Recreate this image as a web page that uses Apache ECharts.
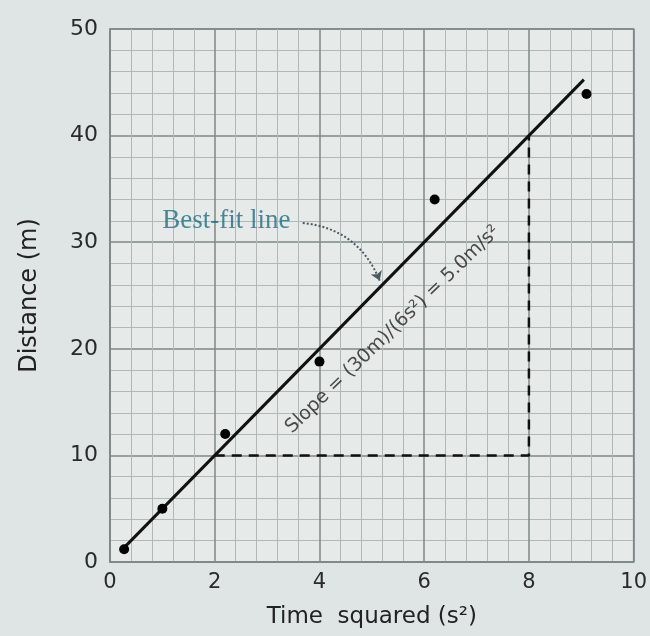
<!DOCTYPE html>
<html>
<head>
<meta charset="utf-8">
<script src="https://cdn.jsdelivr.net/npm/echarts@6/dist/echarts.min.js"></script>
<style>html,body{margin:0;padding:0;background:#dfe5e4;}#c{width:650px;height:636px;}</style>
</head>
<body>
<div id="c"></div>
<script>
// Measured data (time squared in s^2, distance in m)
const timeSq = [0.27, 1.0, 2.2, 4.0, 6.2, 9.1];
const distance = [1.2, 5.0, 12.0, 18.8, 34.0, 43.9];
// Best-fit line end points
const fitX = [0.27, 9.05];
const fitY = [1.35, 45.25];
// Slope triangle (dashed)
const triX = [2, 8, 8];
const triY = [10, 10, 40];
// Annotation anchors
const bestFitLabel = { text: 'Best-fit line', x: 1.0, y: 32.0 };
const slopeLabel = { text: 'Slope = (30m)/(6s²) = 5.0m/s²', x: 5.4, y: 21.8 };
const arrowFrom = [3.68, 31.8];
const arrowTo = [5.15, 26.4];

const chart = echarts.init(document.getElementById('c'));
const handFont = 'DejaVu Sans';
chart.setOption({
  backgroundColor: '#dfe5e4',
  animation: false,
  grid: { left: 110, top: 29, width: 527, height: 533, show: true, backgroundColor: '#e6ebea', borderColor: '#7f8787', borderWidth: 1.5 },
  xAxis: {
    type: 'value', min: 0, max: 10, interval: 2,
    name: 'Time  squared (s²)', nameLocation: 'middle', nameGap: 44,
    nameTextStyle: { fontFamily: handFont, fontSize: 23, color: '#222' },
    axisLine: { show: true, lineStyle: { color: '#7f8787', width: 1.5 } },
    axisTick: { show: false },
    axisLabel: { fontFamily: handFont, fontSize: 21, color: '#2a2a2a', margin: 10, showMaxLabel: true },
    splitLine: { show: true, lineStyle: { color: '#7f8787', width: 1.5 } },
    minorTick: { show: true, splitNumber: 5, length: 0 },
    minorSplitLine: { show: true, lineStyle: { color: '#b0b8b8', width: 1 } }
  },
  yAxis: {
    type: 'value', min: 0, max: 50, interval: 10,
    name: 'Distance (m)', nameLocation: 'middle', nameGap: 68, nameRotate: 90,
    nameTextStyle: { fontFamily: handFont, fontSize: 24, color: '#222' },
    axisLine: { show: true, lineStyle: { color: '#7f8787', width: 1.5 } },
    axisTick: { show: false },
    axisLabel: { fontFamily: handFont, fontSize: 22, color: '#2a2a2a', margin: 12 },
    splitLine: { show: true, lineStyle: { color: '#7f8787', width: 1.5 } },
    minorTick: { show: true, splitNumber: 5, length: 0 },
    minorSplitLine: { show: true, lineStyle: { color: '#b0b8b8', width: 1 } }
  },
  series: [
    {
      type: 'line', data: triX.map((x, i) => [x, triY[i]]), symbol: 'none',
      lineStyle: { color: '#111', width: 2.5, type: [10, 7] }, z: 3
    },
    {
      type: 'line', data: fitX.map((x, i) => [x, fitY[i]]), symbol: 'none',
      lineStyle: { color: '#111', width: 3 }, z: 4
    },
    {
      type: 'scatter', data: timeSq.map((x, i) => [x, distance[i]]), symbolSize: 10,
      itemStyle: { color: '#000', opacity: 1 }, z: 5
    },
    {
      type: 'scatter', symbolSize: 0, z: 6,
      data: [
        { value: [bestFitLabel.x, bestFitLabel.y], label: { show: true, formatter: bestFitLabel.text, position: 'right', distance: 0,
          fontFamily: 'Liberation Serif', fontSize: 27, color: '#1f6e80' } },
        { value: [slopeLabel.x, slopeLabel.y], label: { show: true, formatter: slopeLabel.text, position: 'inside', rotate: 44,
          fontFamily: handFont, fontSize: 19, color: '#222' } }
      ]
    },
    {
      type: 'lines', coordinateSystem: 'cartesian2d', z: 6,
      symbol: ['none', 'arrow'], symbolSize: 9,
      lineStyle: { color: '#4a5a60', width: 2, type: 'dotted', curveness: 0.3, opacity: 1 },
      data: [{ coords: [arrowFrom, arrowTo] }]
    }
  ]
});
</script>
</body>
</html>
